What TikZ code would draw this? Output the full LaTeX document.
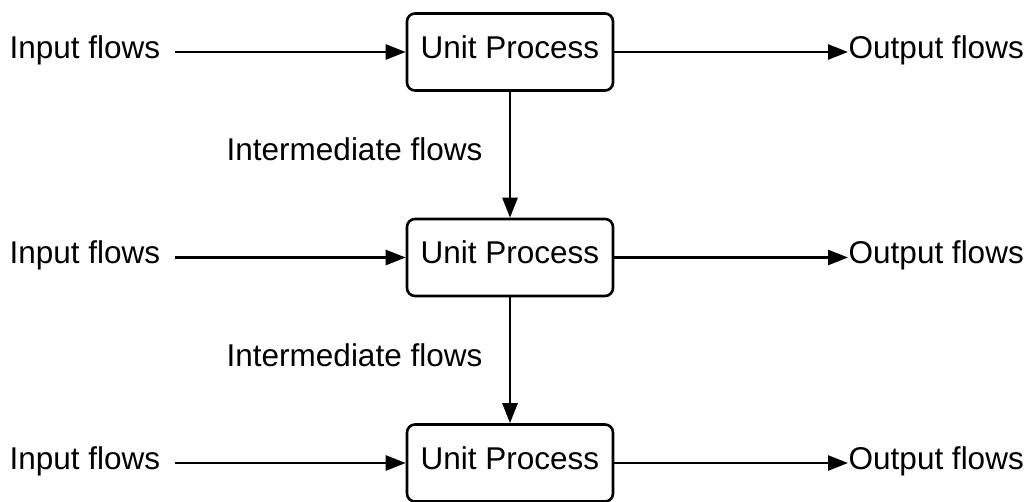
\documentclass[tikz,border=0pt]{standalone}
\usepackage{fontspec}
\setmainfont{Liberation Sans}
\usetikzlibrary{arrows.meta}
\tikzset{
  unitbox/.style={draw, line width=2.6pt, rounded corners=8pt, minimum width=206pt, minimum height=77pt, inner sep=0pt},
  flow/.style={line width=2.6pt, -{Triangle[length=20pt,width=15pt]}},
  lbl/.style={inner sep=0pt, anchor=base west},
  ptxt/.style={inner sep=0pt, anchor=base},
}
\begin{document}
\begin{tikzpicture}[x=1pt,y=-1pt,font=\fontsize{31.5}{37}\selectfont]
\useasboundingbox (0,0) rectangle (1025,502);
% unit processes
\node[unitbox] (p1) at (510,52) {};
\node[unitbox] (p2) at (510,257.5) {};
\node[unitbox] (p3) at (510,463) {};
\node[ptxt] (t1) at (510,58.3) {Unit Process};
\node[ptxt] (t2) at (510,263.8) {Unit Process};
\node[ptxt] (t3) at (510,469.3) {Unit Process};
% input and output labels
\node[lbl] (in1) at (9.5,58.3) {Input flows};
\node[lbl] (in2) at (9.5,263.8) {Input flows};
\node[lbl] (in3) at (9.5,469.3) {Input flows};
\node[lbl] (out1) at (848.5,58.3) {Output flows};
\node[lbl] (out2) at (848.5,263.8) {Output flows};
\node[lbl] (out3) at (848.5,469.3) {Output flows};
\node[lbl] (m1) at (226.5,160.7) {Intermediate flows};
\node[lbl] (m2) at (226.5,366.2) {Intermediate flows};
% arrow endpoints
\coordinate (a1) at (175,52);
\coordinate (a2) at (175,257.5);
\coordinate (a3) at (175,463);
\coordinate (b1) at (848,52);
\coordinate (b2) at (848,257.5);
\coordinate (b3) at (848,463);
% connectors
\draw[flow] (a1) -- (p1.west);
\draw[flow] (a2) -- (p2.west);
\draw[flow] (a3) -- (p3.west);
\draw[flow] (p1.east) -- (b1);
\draw[flow] (p2.east) -- (b2);
\draw[flow] (p3.east) -- (b3);
\draw[flow] (p1.south) -- (p2.north);
\draw[flow] (p2.south) -- (p3.north);
\end{tikzpicture}
\end{document}
